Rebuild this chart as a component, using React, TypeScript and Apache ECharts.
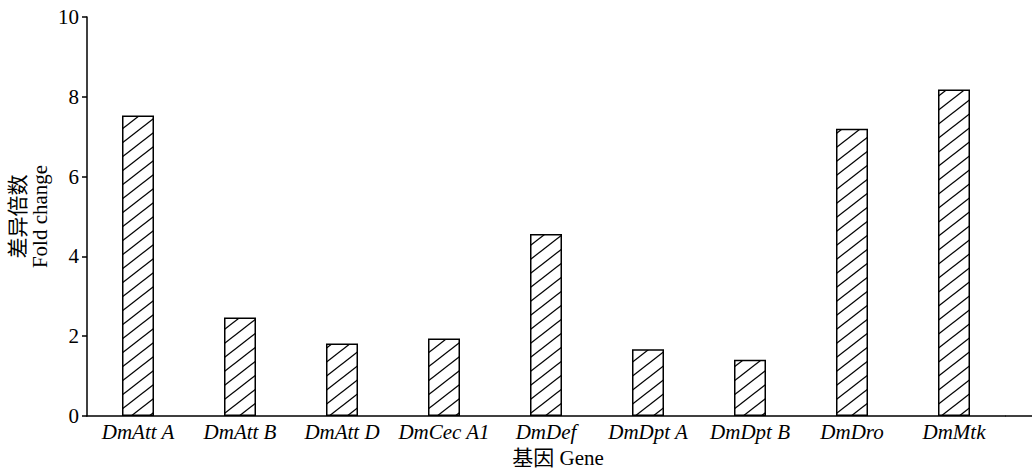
import React, { useEffect, useRef } from "react";
import * as echarts from "echarts";

const categories = ["DmAtt A", "DmAtt B", "DmAtt D", "DmCec A1", "DmDef", "DmDpt A", "DmDpt B", "DmDro", "DmMtk"];
const foldChange = [7.53, 2.47, 1.82, 1.94, 4.56, 1.67, 1.41, 7.2, 8.18];
const yTicks = { min: 0, max: 10, interval: 2 };
const yName = "差异倍数\nFold change";
const xName = "基因 Gene";

function makeHatch(): string {
  const w = 18, h = 14;
  const c = document.createElement("canvas");
  c.width = w; c.height = h;
  const ctx = c.getContext("2d")!;
  ctx.fillStyle = "#ffffff";
  ctx.fillRect(0, 0, w, h);
  ctx.strokeStyle = "#000000";
  ctx.lineWidth = 1.3;
  for (const dx of [-w, 0, w]) {
    ctx.beginPath();
    ctx.moveTo(dx - w, 2 * h);
    ctx.lineTo(dx + 2 * w, -h);
    ctx.stroke();
  }
  return c.toDataURL();
}

export default function App() {
  const ref = useRef<HTMLDivElement>(null);
  useEffect(() => {
    document.body.style.margin = "0";
    const chart = echarts.init(ref.current!, null, { renderer: "svg" });
    const font = "'Liberation Serif', 'Times New Roman', 'Noto Sans CJK SC', serif";
    const hatch = makeHatch();
    chart.setOption({
      animation: false,
      backgroundColor: "#ffffff",
      grid: { left: 87, top: 17, right: 27, bottom: 56, containLabel: false, outerBoundsMode: "none" },
      xAxis: {
        type: "category",
        data: categories,
        axisLine: { show: true, lineStyle: { color: "#000", width: 1.5 } },
        axisTick: { show: false },
        axisLabel: { color: "#000", fontFamily: font, fontSize: 21, fontStyle: "italic", margin: 5, interval: 0 },
        splitLine: { show: false },
      },
      yAxis: {
        type: "value",
        min: yTicks.min,
        max: yTicks.max,
        interval: yTicks.interval,
        name: yName,
        nameLocation: "middle",
        nameRotate: 90,
        nameGap: 36,
        nameMoveOverlap: false,
        nameTextStyle: { color: "#000", fontFamily: font, fontSize: 21, lineHeight: 22 },
        axisLine: { show: true, lineStyle: { color: "#000", width: 1.5 } },
        axisTick: { show: true, length: 5, lineStyle: { color: "#000", width: 1.5 } },
        axisLabel: { color: "#000", fontFamily: font, fontSize: 21, margin: 8 },
        splitLine: { show: false },
      },
      graphic: [
        {
          type: "line",
          shape: { x1: 1005, y1: 416, x2: 1032, y2: 416 },
          style: { stroke: "#000", lineWidth: 1.5 },
        },
        {
          type: "text",
          x: 558,
          y: 458,
          style: { text: xName, fill: "#000", font: `21px ${font}`, textAlign: "center", textVerticalAlign: "middle" },
        },
      ],
      series: [
        {
          type: "bar",
          data: foldChange,
          barWidth: 32,
          itemStyle: {
            color: { image: hatch, repeat: "repeat" },
            borderColor: "#000",
            borderWidth: 1.5,
          },
        },
      ],
    });
    return () => chart.dispose();
  }, []);
  return <div ref={ref} style={{ position: "fixed", left: 0, top: 0, width: 1032, height: 472 }} />;
}
